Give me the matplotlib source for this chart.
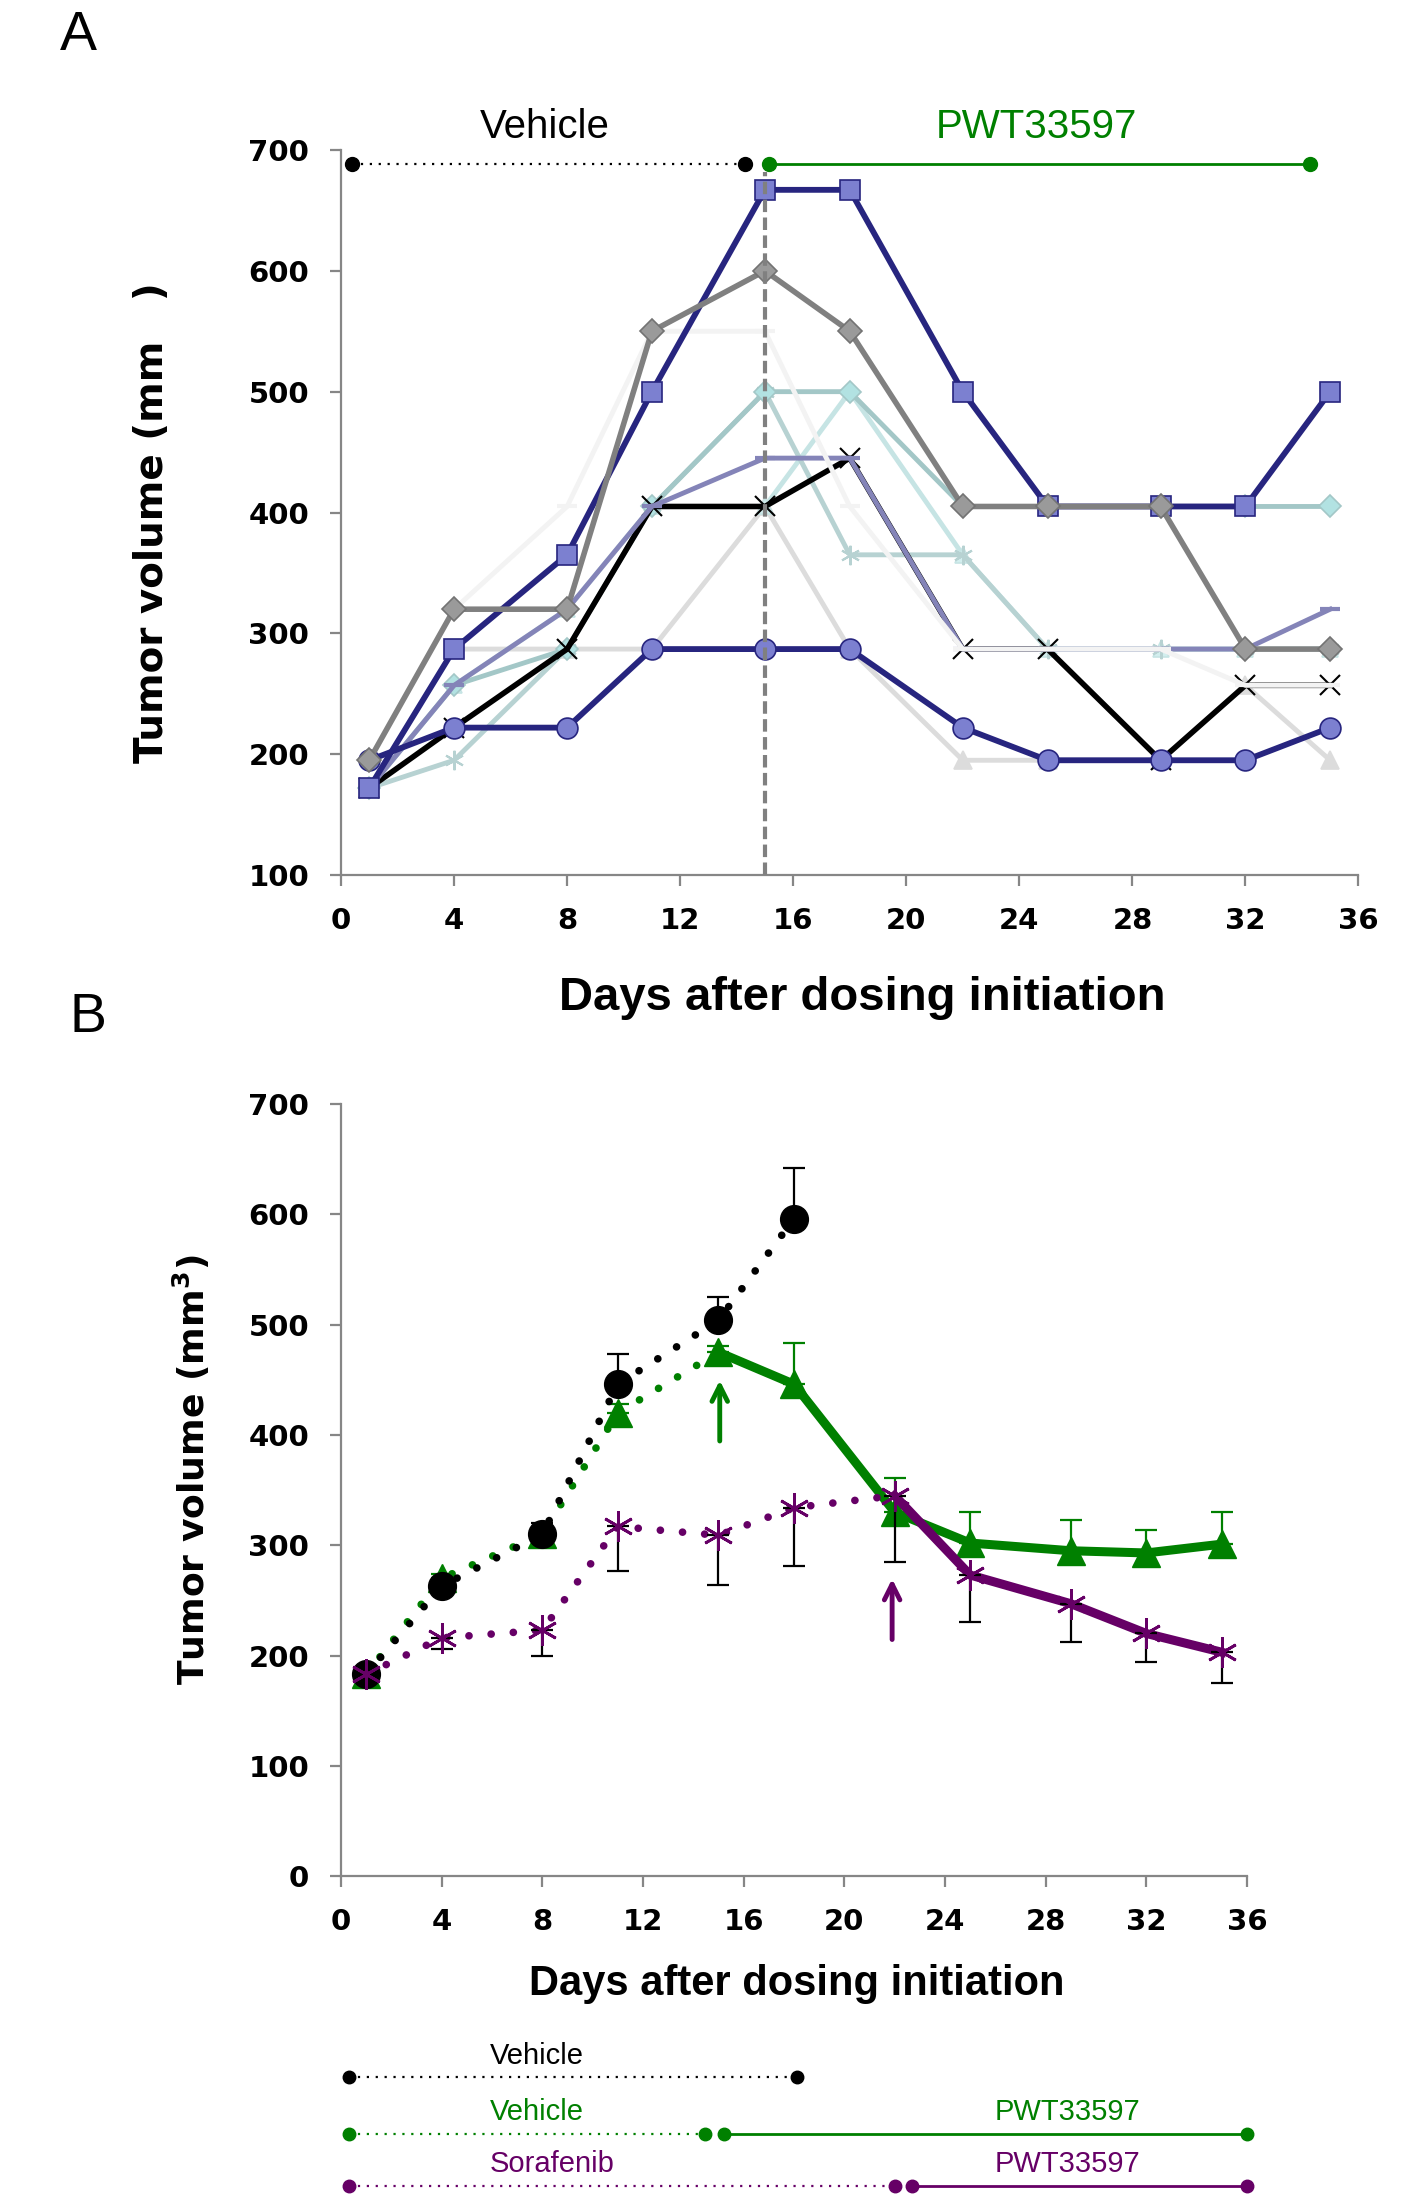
import matplotlib.pyplot as plt

plt.rcParams['font.family'] = ['DejaVu Sans']

days = [1, 4, 8, 11, 15, 18, 22, 25, 29, 32, 35]

# Panel A: individual mice (mm3)
mouse_square = [172, 287, 365, 500, 667, 667, 500, 405, 405, 405, 500]
mouse_diamond = [195, 320, 320, 550, 600, 550, 405, 405, 405, 287, 287]
mouse_circle = [195, 222, 222, 287, 287, 287, 222, 195, 195, 195, 222]
mouse_cross = [172, 222, 287, 405, 405, 445, 287, 287, 195, 257, 257]
mouse_lavender = [172, 257, 320, 405, 445, 445, 287, 287, 287, 287, 320]
mouse_teal = [172, 257, 287, 405, 500, 500, 405, 405, 405, 405, 405]
mouse_cyan = [172, 257, 320, 405, 405, 500, 365, 287, 287, 287, 287]
mouse_star = [172, 195, 287, 405, 500, 365, 365, 287, 287, 287, 287]
mouse_white = [195, 320, 405, 550, 550, 405, 287, 287, 287, 257, 257]
mouse_ltgray = [172, 287, 287, 287, 405, 287, 195, 195, 195, 257, 195]

# Panel B: group means and SEM
veh_days = [1, 4, 8, 11, 15, 18]
veh_mean = [183, 263, 310, 446, 504, 596]
veh_err = [0, 5, 10, 27, 21, 46]

pwt_mean = [183, 270, 310, 420, 475, 446, 330, 302, 295, 293, 301]
pwt_err = [0, 4, 6, 8, 6, 37, 31, 28, 28, 21, 29]

sor_mean = [183, 216, 223, 317, 309, 334, 345, 273, 247, 220, 203]
sor_err = [0, 10, 23, 40, 45, 53, 60, 43, 35, 26, 28]

GREEN = '#008000'
PURPLE = '#660066'
AXGRAY = '#868686'

fig = plt.figure(figsize=(14.21, 22.02), dpi=100)
ax_a = fig.add_axes([0.240, 0.6026, 0.716, 0.3293])
ax_b = fig.add_axes([0.240, 0.1480, 0.6375, 0.3506])


def style_axes(ax):
    for s in ['top', 'right']:
        ax.spines[s].set_visible(False)
    for s in ['left', 'bottom']:
        ax.spines[s].set_color(AXGRAY)
        ax.spines[s].set_linewidth(1.6)
    ax.tick_params(direction='out', length=8, width=1.6, color=AXGRAY,
                   labelsize=21, pad=15)
    for lab in ax.get_xticklabels() + ax.get_yticklabels():
        lab.set_fontweight('bold')


# ---------------- panel A ----------------
def mouse(vals, color, lw=3.5, marker=None, ms=12, mfc=None, mec=None, mew=1.2, z=2):
    ax_a.plot(days, vals, color=color, lw=lw, marker=marker, ms=ms,
              mfc=mfc if mfc else color, mec=mec if mec else color,
              mew=mew, zorder=z, clip_on=False)


mouse(mouse_ltgray, '#DCDCDC', marker='^', ms=13, z=2)
mouse(mouse_cyan, '#C6E4E4', marker='^', ms=12, mfc='#D2EEEE', z=2.1)
mouse(mouse_star, '#B7D2D2', marker=(6, 2, 0), ms=14, mew=1.5, z=2.2)
mouse(mouse_teal, '#A3C7C7', marker='D', ms=11, mfc='#B2E2E2', mec='#A3C7C7', z=2.3)
mouse(mouse_cross, 'black', lw=4, marker='x', ms=14, mew=1.5, z=2.4)
mouse(mouse_lavender, '#8484B8', marker='_', ms=14, mew=3, z=2.5)
mouse(mouse_white, '#F3F3F3', marker='_', ms=14, mew=3, z=2.6)
mouse(mouse_circle, '#27257F', lw=4.2, marker='o', ms=15, mfc='#7C80D0', z=2.7)
mouse(mouse_square, '#27257F', lw=4.2, marker='s', ms=15, mfc='#7C80D0', z=2.8)
mouse(mouse_diamond, '#808080', lw=4, marker='D', ms=12, mfc='#9A9A9A', mec='#737373', z=2.9)

ax_a.vlines(15, 100, 682, colors='#808080', lw=3, linestyles=(0, (3, 1.3)), zorder=3)

# treatment periods above the plot
ax_a.plot([0.4, 14.3], [688, 688], color='black', lw=1.6, ls=(0, (1, 3)), clip_on=False)
ax_a.plot([0.4, 14.3], [688, 688], 'o', color='black', ms=10, ls='none', clip_on=False)
ax_a.plot([15.15, 34.3], [688, 688], color=GREEN, lw=2, marker='o', ms=10, clip_on=False)
ax_a.text(7.2, 719, 'Vehicle', fontsize=29, family='Liberation Sans', ha='center', va='center')
ax_a.text(24.6, 719, 'PWT33597', fontsize=29, family='Liberation Sans', color=GREEN,
          ha='center', va='center')

ax_a.set_xlim(0, 36)
ax_a.set_ylim(100, 700)
ax_a.set_xticks(range(0, 37, 4))
ax_a.set_yticks(range(100, 701, 100))
style_axes(ax_a)

# ---------------- panel B ----------------
dot = (0, (0.01, 2.9))
ax_b.plot(days[:5], pwt_mean[:5], color=GREEN, lw=5.5, ls=dot, dash_capstyle='round', zorder=3)
ax_b.plot(days[4:], pwt_mean[4:], color=GREEN, lw=6.5, zorder=3)
ax_b.plot(days, pwt_mean, '^', color=GREEN, ms=20, ls='none', zorder=3.5)
ax_b.errorbar(days, pwt_mean, yerr=[[0] * len(days), pwt_err], fmt='none',
              ecolor=GREEN, elinewidth=1.6, capsize=8, capthick=1.6, zorder=3)

ax_b.plot(veh_days, veh_mean, color='black', lw=5.5, ls=dot, dash_capstyle='round', zorder=4)
ax_b.plot(veh_days, veh_mean, 'o', color='black', ms=20, ls='none', zorder=4.5)
ax_b.errorbar(veh_days, veh_mean, yerr=[[0] * len(veh_days), veh_err], fmt='none',
              ecolor='black', elinewidth=1.6, capsize=8, capthick=1.6, zorder=4)

ax_b.plot(days[:7], sor_mean[:7], color=PURPLE, lw=5.5, ls=dot, dash_capstyle='round', zorder=5)
ax_b.plot(days[6:], sor_mean[6:], color=PURPLE, lw=6.5, zorder=5)
ax_b.plot(days, sor_mean, marker=(6, 2, 0), color=PURPLE, ms=22, mew=2, ls='none', zorder=5.5)
ax_b.errorbar(days, sor_mean, yerr=[sor_err, [0] * len(days)], fmt='none',
              ecolor='black', elinewidth=1.6, capsize=8, capthick=1.6, zorder=5)

ax_b.annotate('', xy=(15.05, 452), xytext=(15.05, 392),
              arrowprops=dict(arrowstyle='->', color=GREEN, lw=3.5, mutation_scale=28))
ax_b.annotate('', xy=(21.9, 272), xytext=(21.9, 212),
              arrowprops=dict(arrowstyle='->', color=PURPLE, lw=3.5, mutation_scale=28))

ax_b.set_xlim(0, 36)
ax_b.set_ylim(0, 700)
ax_b.set_xticks(range(0, 37, 4))
ax_b.set_yticks(range(0, 701, 100))
style_axes(ax_b)

# treatment schedule under panel B
fine = (0, (1, 3))
ax_b.plot([0.33, 18.1], [-182, -182], color='black', lw=1.6, ls=fine, clip_on=False)
ax_b.plot([0.33, 18.1], [-182, -182], 'o', color='black', ms=9, clip_on=False)
ax_b.plot([0.33, 14.45], [-234, -234], color=GREEN, lw=1.6, ls=fine, clip_on=False)
ax_b.plot([0.33, 14.45], [-234, -234], 'o', color=GREEN, ms=9, clip_on=False)
ax_b.plot([15.2, 36], [-234, -234], color=GREEN, lw=2, marker='o', ms=9, clip_on=False)
ax_b.plot([0.33, 22.0], [-281, -281], color=PURPLE, lw=1.6, ls=fine, clip_on=False)
ax_b.plot([0.33, 22.0], [-281, -281], 'o', color=PURPLE, ms=9, clip_on=False)
ax_b.plot([22.7, 36], [-281, -281], color=PURPLE, lw=2, marker='o', ms=9, clip_on=False)

sched_font = dict(fontsize=21, family='Liberation Sans', ha='center', va='center')
ax_b.text(7.8, -163, 'Vehicle', color='black', **sched_font)
ax_b.text(7.8, -214, 'Vehicle', color=GREEN, **sched_font)
ax_b.text(28.85, -214, 'PWT33597', color=GREEN, **sched_font)
ax_b.text(8.4, -261, 'Sorafenib', color=PURPLE, **sched_font)
ax_b.text(28.85, -261, 'PWT33597', color=PURPLE, **sched_font)

# axis titles and panel letters
fig.text(0.607, 1 - 998 / 2202, 'Days after dosing initiation', fontsize=34,
         fontweight='bold', family='Liberation Sans', ha='center', va='center')
fig.text(0.561, 1 - 1984 / 2202, 'Days after dosing initiation', fontsize=30,
         fontweight='bold', family='Liberation Sans', ha='center', va='center')
fig.text(0.107, 0.7625, 'Tumor volume (mm   )', fontsize=28, fontweight='bold',
         rotation=90, ha='center', va='center')
fig.text(0.135, 0.3324, 'Tumor volume (mm$^\\mathbf{3}$)', fontsize=26, fontweight='bold',
         rotation=90, ha='center', va='center')
fig.text(0.055, 0.9836, 'A', fontsize=40, family='Liberation Sans', ha='center', va='center')
fig.text(0.062, 1 - 1018 / 2202, 'B', fontsize=40, family='Liberation Sans', ha='center', va='center')

fig.savefig('out.png', dpi=100)
